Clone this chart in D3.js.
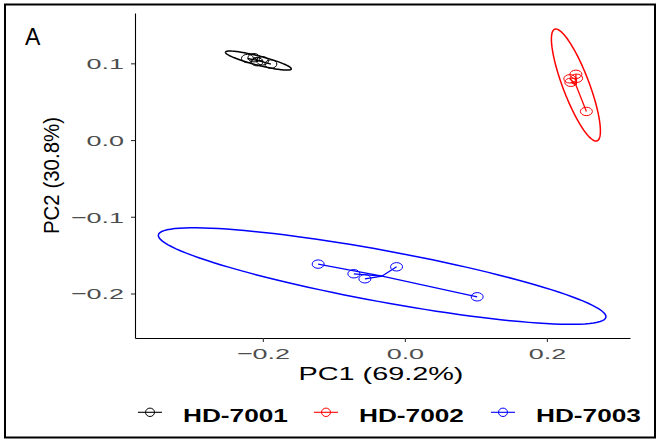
<!DOCTYPE html>
<html>
<head>
<meta charset="utf-8">
<script src="https://cdn.jsdelivr.net/npm/d3@7"></script>
<style>
  body { margin: 0; background: #fff; }
  text { font-family: "Liberation Sans", Arial, sans-serif; }
</style>
</head>
<body>
<svg id="chart" width="658" height="441"></svg>
<script>
// groups and colours
const groups = ['HD-7001', 'HD-7002', 'HD-7003'];
const colors = ['#000000', '#FF0000', '#0000FF'];

// PCA scores
const pc1_7001 = [-0.2216, -0.2125, -0.2082, -0.2005, -0.1887];
const pc2_7001 = [0.1063, 0.1073, 0.1021, 0.1033, 0.0990];
const pc1_7002 = [0.2408, 0.2323, 0.2418, 0.2337, 0.2556];
const pc2_7002 = [0.0857, 0.0798, 0.0805, 0.0753, 0.0373];
const pc1_7003 = [-0.1221, -0.0718, -0.0563, -0.0117, 0.1018];
const pc2_7003 = [-0.1617, -0.1743, -0.1808, -0.1652, -0.2043];

const xTicks = [-0.2, 0.0, 0.2];
const yTicks = [-0.2, -0.1, 0.0, 0.1];
const xTitle = 'PC1 (69.2%)';
const yTitle = 'PC2 (30.8%)';
const panelTag = 'A';

const series = [
  { name: groups[0], color: colors[0], x: pc1_7001, y: pc2_7001 },
  { name: groups[1], color: colors[1], x: pc1_7002, y: pc2_7002 },
  { name: groups[2], color: colors[2], x: pc1_7003, y: pc2_7003 }
];

const svg = d3.select('#chart');
const pLeft = 135, pRight = 630, pTop = 13, pBottom = 338;

const x = d3.scaleLinear().domain([-0.38, 0.317]).range([pLeft, pRight]);
const y = d3.scaleLinear().domain([-0.258, 0.1656]).range([pBottom, pTop]);

function stretch(sel, k) {
  sel.each(function () {
    const w = this.getComputedTextLength();
    d3.select(this).attr('textLength', w * k).attr('lengthAdjust', 'spacingAndGlyphs');
  });
}

// outer frame
svg.append('rect')
  .attr('x', 5).attr('y', 4.5).attr('width', 650).attr('height', 433)
  .attr('fill', 'none').attr('stroke', '#000').attr('stroke-width', 2);

// 95% normal ellipse like stat_ellipse(type = "norm")
function ellipsePoints(xs, ys) {
  const n = xs.length;
  const mx = d3.mean(xs), my = d3.mean(ys);
  let sxx = 0, syy = 0, sxy = 0;
  for (let i = 0; i < n; i++) {
    sxx += (xs[i] - mx) ** 2;
    syy += (ys[i] - my) ** 2;
    sxy += (xs[i] - mx) * (ys[i] - my);
  }
  sxx /= n - 1; syy /= n - 1; sxy /= n - 1;
  const tr = sxx + syy, det = sxx * syy - sxy * sxy;
  const disc = Math.sqrt(tr * tr / 4 - det);
  const l1 = tr / 2 + disc, l2 = Math.max(tr / 2 - disc, 0);
  const ang = Math.atan2(l1 - sxx, sxy);
  const d = n - 1;
  const qf = d / 2 * (Math.pow(0.05, -2 / d) - 1);
  const r = Math.sqrt(2 * qf);
  const pts = [];
  for (let k = 0; k <= 120; k++) {
    const t = k / 120 * 2 * Math.PI;
    const a = r * Math.sqrt(l1) * Math.cos(t), b = r * Math.sqrt(l2) * Math.sin(t);
    pts.push([mx + a * Math.cos(ang) - b * Math.sin(ang), my + a * Math.sin(ang) + b * Math.cos(ang)]);
  }
  return pts;
}

const line = d3.line().x(d => x(d[0])).y(d => y(d[1]));
const plot = svg.append('g');

series.forEach(s => {
  const g = plot.append('g');
  g.append('path')
    .attr('d', line(ellipsePoints(s.x, s.y)))
    .attr('fill', 'none').attr('stroke', s.color).attr('stroke-width', 1.5);
  const cx = d3.mean(s.x), cy = d3.mean(s.y);
  g.selectAll('line.spoke').data(s.x.map((v, i) => [v, s.y[i]])).enter().append('line')
    .attr('x1', x(cx)).attr('y1', y(cy))
    .attr('x2', d => x(d[0])).attr('y2', d => y(d[1]))
    .attr('stroke', s.color).attr('stroke-width', 1.3);
  g.selectAll('ellipse').data(s.x.map((v, i) => [v, s.y[i]])).enter().append('ellipse')
    .attr('cx', d => x(d[0])).attr('cy', d => y(d[1]))
    .attr('rx', 6).attr('ry', 4.2)
    .attr('fill', 'none').attr('stroke', s.color).attr('stroke-width', 1);
});

// axes
const xAxis = svg.append('g').attr('transform', `translate(0,${pBottom})`)
  .call(d3.axisBottom(x).tickValues(xTicks).tickFormat(d3.format('.1f')).tickSize(4).tickSizeOuter(0));
const yAxis = svg.append('g').attr('transform', `translate(${pLeft},0)`)
  .call(d3.axisLeft(y).tickValues(yTicks).tickFormat(d3.format('.1f')).tickSize(4).tickSizeOuter(0));

[xAxis, yAxis].forEach(a => {
  a.select('.domain').attr('stroke', '#000').attr('stroke-width', 1.1);
  a.selectAll('.tick line').attr('stroke', '#333').attr('stroke-width', 1.1);
  a.selectAll('.tick text').attr('fill', '#4d4d4d').style('font-size', '15.5px')
    .style('font-family', '"Liberation Sans", Arial, sans-serif');
});
xAxis.selectAll('.tick text').attr('y', 21).attr('dy', 0);
yAxis.selectAll('.tick text').attr('x', -11).attr('dy', '0.34em');
stretch(xAxis.selectAll('.tick text'), 1.74);
stretch(yAxis.selectAll('.tick text'), 1.74);

// axis titles
const xt = svg.append('text')
  .attr('x', (pLeft + pRight) / 2 - 1.5).attr('y', 380)
  .attr('text-anchor', 'middle').style('font-size', '18.6px').attr('fill', '#000')
  .text(xTitle);
stretch(xt, 1.55);

const yt = svg.append('text')
  .attr('transform', `translate(58.5,${(pTop + pBottom) / 2}) rotate(-90) scale(1,1.45)`)
  .attr('text-anchor', 'middle').style('font-size', '15.5px').attr('fill', '#000')
  .text(yTitle);
stretch(yt, 1.32);

// panel tag
svg.append('text').attr('x', 25).attr('y', 45)
  .style('font-size', '23px').attr('fill', '#000').text(panelTag);

// legend
const legendX = [183, 359, 536];
const legend = svg.append('g');
series.forEach((s, i) => {
  const kx = legendX[i] - 33;
  legend.append('line')
    .attr('x1', kx - 12).attr('x2', kx + 12).attr('y1', 412.3).attr('y2', 412.3)
    .attr('stroke', s.color).attr('stroke-width', 1.1);
  legend.append('ellipse')
    .attr('cx', kx).attr('cy', 412.3).attr('rx', 4.5).attr('ry', 4.2)
    .attr('fill', 'none').attr('stroke', s.color).attr('stroke-width', 1);
  const t = legend.append('text')
    .attr('x', legendX[i]).attr('y', 421.7)
    .style('font-size', '18.6px').style('font-weight', 'bold').attr('fill', '#000')
    .text(s.name);
  stretch(t, 1.41);
});
</script>
</body>
</html>
